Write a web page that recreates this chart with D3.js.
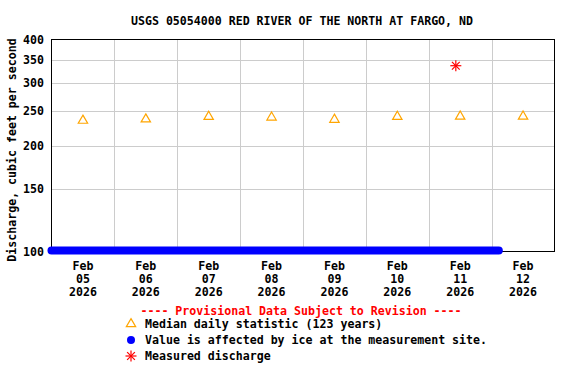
<!DOCTYPE html>
<html>
<head>
<meta charset="utf-8">
<script src="https://cdn.jsdelivr.net/npm/d3@7"></script>
<style>
  body { margin: 0; background: #fff; }
  svg { display: block; }
  text { font-family: "DejaVu Sans Mono", "Liberation Mono", monospace; font-weight: bold; font-size: 11.6px; }
</style>
</head>
<body>
<div id="chart"></div>
<script>
// values
const title = "USGS 05054000 RED RIVER OF THE NORTH AT FARGO, ND";
const yLabel = "Discharge, cubic feet per second";
const yTicks = [100, 150, 200, 250, 300, 350, 400];
const dayTicks = ["2026-02-05", "2026-02-06", "2026-02-07", "2026-02-08", "2026-02-09", "2026-02-10", "2026-02-11", "2026-02-12"];
const medianTimes = ["2026-02-05T12:00", "2026-02-06T12:00", "2026-02-07T12:00", "2026-02-08T12:00", "2026-02-09T12:00", "2026-02-10T12:00", "2026-02-11T12:00", "2026-02-12T12:00"];
const medianValues = [237, 239, 243, 242, 238.5, 243, 243.5, 243.5];
const measuredTimes = ["2026-02-11T10:20"];
const measuredValues = [337];
// ice-affected period (values sit below the axis minimum, drawn on the bottom)
const iceTimes = ["2026-02-05T00:00", "2026-02-12T02:45"];
const legendItems = ["Median daily statistic (123 years)", "Value is affected by ice at the measurement site.", "Measured discharge"];

const width = 576, height = 384;
const parse = d3.timeParse("%Y-%m-%dT%H:%M");
const parseDay = d3.timeParse("%Y-%m-%d");

const svg = d3.select("#chart").append("svg")
    .attr("width", width)
    .attr("height", height);

const x = d3.scaleTime()
    .domain([parseDay("2026-02-05"), parseDay("2026-02-13")])
    .range([51.5, 554.5]);

const y = d3.scaleLog()
    .domain([100, 400])
    .range([251.5, 39.5]);

// gridlines
svg.append("g")
  .selectAll("line")
  .data(dayTicks.slice(1).map(parseDay))
  .enter().append("line")
    .attr("x1", d => Math.round(x(d)) + 0.5)
    .attr("x2", d => Math.round(x(d)) + 0.5)
    .attr("y1", y(400))
    .attr("y2", y(100))
    .attr("stroke", "#cccccc");

svg.append("g")
  .selectAll("line")
  .data(yTicks.slice(1, -1))
  .enter().append("line")
    .attr("x1", x.range()[0])
    .attr("x2", x.range()[1])
    .attr("y1", d => Math.round(y(d)) + 0.5)
    .attr("y2", d => Math.round(y(d)) + 0.5)
    .attr("stroke", "#cccccc");

// plot frame
svg.append("rect")
    .attr("x", x.range()[0])
    .attr("y", y(400))
    .attr("width", x.range()[1] - x.range()[0])
    .attr("height", y(100) - y(400))
    .attr("fill", "none")
    .attr("stroke", "#000");

// y tick labels
svg.append("g")
  .selectAll("text")
  .data(yTicks)
  .enter().append("text")
    .attr("x", 44)
    .attr("y", d => y(d) + 4)
    .attr("text-anchor", "end")
    .text(d => d);

// x tick labels (centered at noon)
const xLab = svg.append("g")
  .selectAll("g")
  .data(dayTicks.map(parseDay))
  .enter().append("text")
    .attr("text-anchor", "middle")
    .attr("transform", d => "translate(" + x(d3.timeHour.offset(d, 12)) + ",0)");
xLab.append("tspan").attr("x", 0).attr("y", 270).text(d3.timeFormat("%b"));
xLab.append("tspan").attr("x", 0).attr("y", 283).text(d3.timeFormat("%d"));
xLab.append("tspan").attr("x", 0).attr("y", 296).text(d3.timeFormat("%Y"));

// title and y label
svg.append("text")
    .attr("x", 302)
    .attr("y", 25)
    .attr("text-anchor", "middle")
    .text(title);

svg.append("text")
    .attr("transform", "translate(16,150) rotate(-90)")
    .attr("text-anchor", "middle")
    .text(yLabel);

// ice-affected values
svg.append("line")
    .attr("x1", x(parse(iceTimes[0])))
    .attr("x2", x(parse(iceTimes[1])))
    .attr("y1", y(100) - 1)
    .attr("y2", y(100) - 1)
    .attr("stroke", "#0000ff")
    .attr("stroke-width", 8)
    .attr("stroke-linecap", "round");

// median triangles
const tri = d3.symbol().type(d3.symbolTriangle).size(38);
svg.append("g")
  .selectAll("path")
  .data(medianValues)
  .enter().append("path")
    .attr("d", tri)
    .attr("transform", (d, i) => "translate(" + x(parse(medianTimes[i])) + "," + (y(d) + 1) + ")")
    .attr("fill", "none")
    .attr("stroke", "#ffa500")
    .attr("stroke-width", 1.2);

// measured discharge star
function star(g, cx, cy) {
  [0, 45, 90, 135].forEach(a => {
    const r = 5.5, t = a * Math.PI / 180;
    g.append("line")
      .attr("x1", cx - r * Math.cos(t)).attr("y1", cy - r * Math.sin(t))
      .attr("x2", cx + r * Math.cos(t)).attr("y2", cy + r * Math.sin(t))
      .attr("stroke", "#ff0000")
      .attr("stroke-width", 1.2);
  });
}
measuredValues.forEach((v, i) => star(svg.append("g"), x(parse(measuredTimes[i])), y(v)));

// legend
svg.append("text")
    .attr("x", 301)
    .attr("y", 315)
    .attr("text-anchor", "middle")
    .attr("fill", "#ff0000")
    .text("---- Provisional Data Subject to Revision ----");

const legY = [324, 340, 356];
svg.append("path")
    .attr("d", tri)
    .attr("transform", "translate(131," + (legY[0]) + ")")
    .attr("fill", "none")
    .attr("stroke", "#ffa500")
    .attr("stroke-width", 1.2);
svg.append("circle")
    .attr("cx", 131).attr("cy", legY[1])
    .attr("r", 4)
    .attr("fill", "#0000ff");
star(svg.append("g"), 131, legY[2]);

svg.append("g")
  .selectAll("text")
  .data(legendItems)
  .enter().append("text")
    .attr("x", 145)
    .attr("y", (d, i) => legY[i] + 4)
    .text(d => d);
</script>
</body>
</html>
